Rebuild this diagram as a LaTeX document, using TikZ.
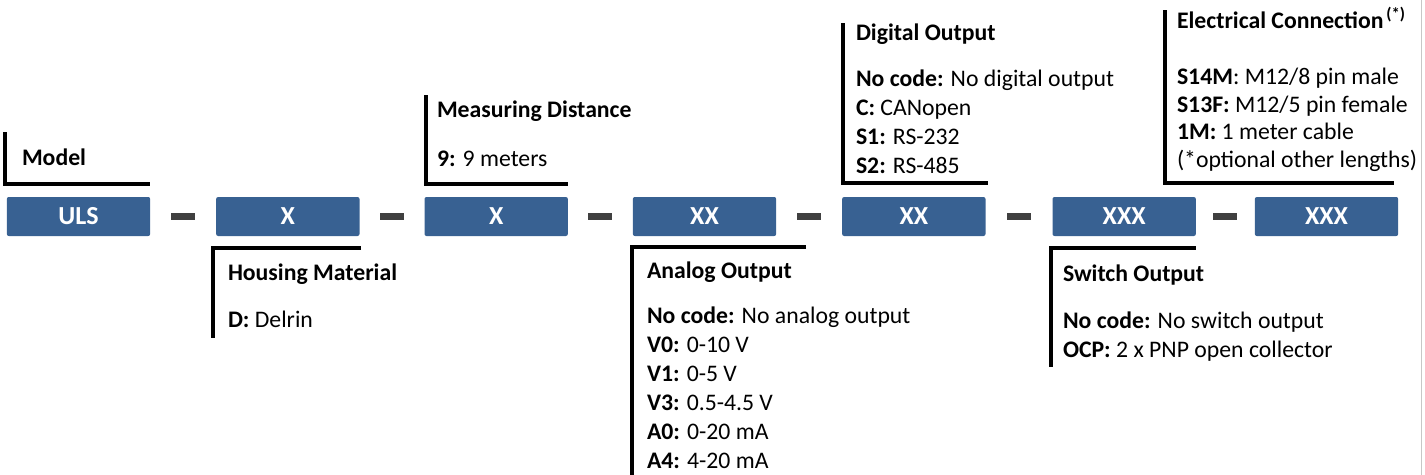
\documentclass[tikz,border=0pt]{standalone}
\usepackage{fontspec}
\setmainfont{Carlito}
\usetikzlibrary{positioning,calc}
\definecolor{codeblue}{RGB}{56,97,146}
\definecolor{bargray}{RGB}{64,64,64}
\begin{document}
\begin{tikzpicture}[x=0.75pt,y=-0.75pt]
\tikzstyle{every node}=[inner sep=0pt,outer sep=0pt,font=\fontsize{17.8}{21.75}\selectfont]
\tikzstyle{codebox}=[rectangle,rounded corners=1.5pt,fill=codeblue,text=white,font=\fontsize{19.5}{23}\selectfont\bfseries,minimum width=107.5pt,minimum height=29.25pt]
\tikzstyle{sepbar}=[rectangle,fill=bargray,minimum width=18pt,minimum height=5.5pt]
\tikzstyle{bracket}=[line width=3pt]
\tikzstyle{info}=[anchor=north west,align=left]
\useasboundingbox (0,0) rectangle (1425,475);
\draw[black!22,line width=0.75pt] (1421.5,0) -- (1421.5,475);
\node[codebox] (model) at (78.5,216.5) {ULS};
\node[codebox,right=49.5pt of model] (housing) {X};
\node[codebox,right=48.75pt of housing] (range) {X};
\node[codebox,right=48.75pt of range] (analog) {XX};
\node[codebox,right=49.5pt of analog] (digital) {XX};
\node[codebox,right=50.25pt of digital] (switch) {XXX};
\node[codebox,right=44.25pt of switch] (conn) {XXX};
\foreach \a/\b in {model/housing,housing/range,range/analog,analog/digital,digital/switch,switch/conn}
  \node[sepbar] (bar-\a) at ($(\a.east)!0.5!(\b.west)$) {};
\draw[bracket] ($(model.north west)+(-2,-65)$) |- ($(model.north east)+(0,-13)$);
\draw[bracket] ($(range.north west)+(1,-102)$) |- ($(range.north east)+(0,-13)$);
\draw[bracket] ($(digital.north west)+(1,-174)$) |- ($(digital.north east)+(2,-14)$);
\draw[bracket] ($(switch.north west)+(112.5,-187)$) |- ($(conn.north east)+(-4.5,-14)$);
\draw[bracket] ($(housing.south east)+(1.5,11.5)$) -| ($(housing.south west)+(-3,102)$);
\draw[bracket] ($(analog.south east)+(30,11)$) -| ($(analog.south west)+(-0.5,240)$);
\draw[bracket] ($(switch.south east)+(0,11.5)$) -| ($(switch.south west)+(-1.5,131)$);
\node[info] (model-text) at (22,144.7) {\strut\textbf{Model}};
\node[info] (housing-text) at (228,259.7) {\strut\textbf{Housing Material}\\[14pt]\textbf{D:} Delrin};
\node[info] (range-text) at (437,96.7) {\strut\textbf{Measuring Distance}\\[15pt]\textbf{9:} 9 meters};
\node[info] (analog-text) at (647,257.7) {\strut\textbf{Analog Output}\\[12pt]
  \textbf{No code:} No analog output\\
  \textbf{V0:} 0-10 V\\
  \textbf{V1:} 0-5 V\\
  \textbf{V3:} 0.5-4.5 V\\
  \textbf{A0:} 0-20 mA\\
  \textbf{A4:} 4-20 mA};
\node[info] (digital-text) at (856,19.7) {\strut\textbf{Digital Output}\\[13pt]
  \textbf{No code:} No digital output\\
  \textbf{C:} CANopen\\
  \textbf{S1:} RS-232\\
  \textbf{S2:} RS-485};
\node[info,font=\fontsize{17.8}{20.6}\selectfont] (conn-text) at (1177,7.5) {\strut\textbf{Electrical Connection}\textsuperscript{\,\textbf{(*)}}\\[22pt]
  \textbf{S14M}: M12/8 pin male\\
  \textbf{S13F:} M12/5 pin female\\
  \textbf{1M:} 1 meter cable\\
  (*optional other lengths)};
\node[info] (switch-text) at (1063,260.7) {\strut\textbf{Switch Output}\\[14pt]
  \textbf{No code:} No switch output\\
  \textbf{OCP:} 2 x PNP open collector};
\end{tikzpicture}
\end{document}
